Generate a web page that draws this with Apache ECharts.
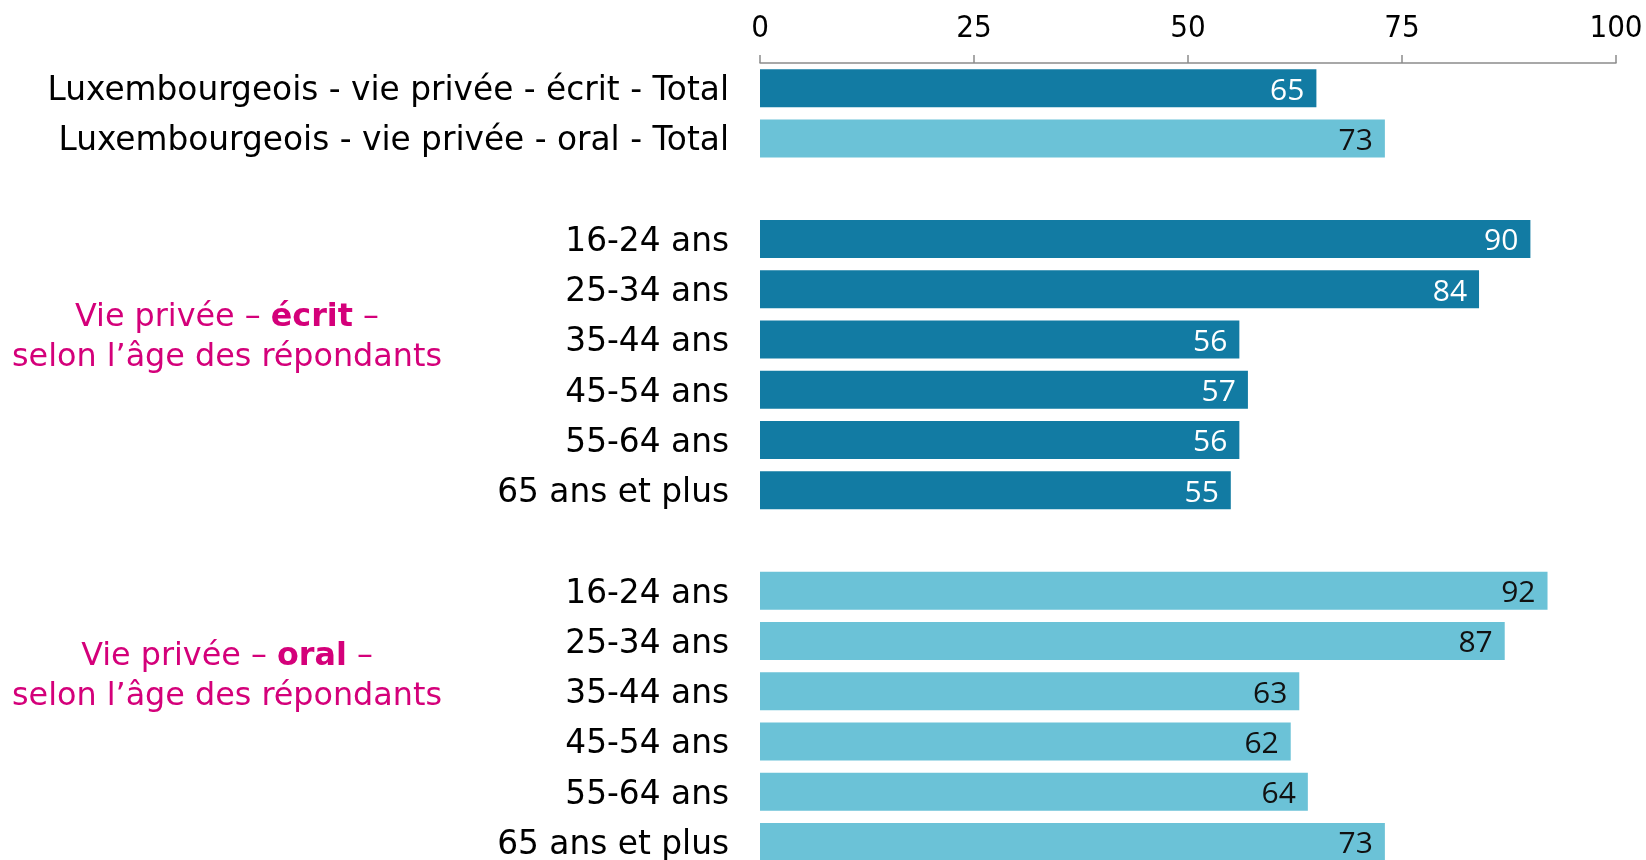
<!DOCTYPE html>
<html>
<head>
<meta charset="utf-8">
<script src="https://cdn.jsdelivr.net/npm/echarts@6/dist/echarts.min.js"></script>
<style>
  html, body { margin: 0; padding: 0; background: #ffffff; }
  #chart { width: 1646px; height: 860px; }
</style>
</head>
<body>
<div id="chart"></div>
<script>
// values
var totalLabels = ['Luxembourgeois - vie privée - écrit - Total', 'Luxembourgeois - vie privée - oral - Total'];
var totalValues = [65, 73];
var ageLabels = ['16-24 ans', '25-34 ans', '35-44 ans', '45-54 ans', '55-64 ans', '65 ans et plus'];
var writtenValues = [90, 84, 56, 57, 56, 55];
var oralValues = [92, 87, 63, 62, 64, 73];
var ticks = [0, 25, 50, 75, 100];

var DARK = '#127ba3';
var LIGHT = '#6bc2d7';
var PINK = '#d4007a';
var FONT = '"DejaVu Sans", Verdana, sans-serif';

// build the category list, with empty rows between the groups
var categories = [];
var data = [];
function push(label, value, color, labelColor) {
  categories.push(label);
  data.push(value == null ? null : {
    value: value,
    itemStyle: { color: color },
    label: { color: labelColor }
  });
}
push(totalLabels[0], totalValues[0], DARK, '#ffffff');
push(totalLabels[1], totalValues[1], LIGHT, '#111111');
push('', null);
ageLabels.forEach(function (a, i) { push(a, writtenValues[i], DARK, '#ffffff'); });
push(' ', null);
ageLabels.forEach(function (a, i) { push(a, oralValues[i], LIGHT, '#111111'); });

function groupLabel(word, y) {
  return {
    type: 'text', x: 227, y: y,
    style: {
      text: 'Vie privée – {b|' + word + '} –\nselon l’âge des répondants',
      align: 'center', verticalAlign: 'middle',
      fill: PINK, fontSize: 31.8, lineHeight: 40, fontFamily: FONT,
      rich: { b: { fontWeight: 'bold', fill: PINK, fontSize: 31.8, fontFamily: FONT } }
    }
  };
}

var myChart = echarts.init(document.getElementById('chart'));
myChart.setOption({
  animation: false,
  grid: { left: 760, width: 856, top: 63, height: 804, containLabel: false, outerBoundsMode: 'none' },
  xAxis: {
    type: 'value',
    position: 'top',
    min: ticks[0],
    max: ticks[ticks.length - 1],
    interval: 25,
    axisLine: { show: true, lineStyle: { color: '#8c8c8c', width: 1.5 } },
    axisTick: { show: true, length: 8, lineStyle: { color: '#8c8c8c', width: 1.5 } },
    splitLine: { show: false },
    axisLabel: {
      margin: 19,
      color: '#000',
      fontSize: 31,
      fontFamily: '"DejaVu Sans Condensed", "Liberation Sans Narrow", sans-serif'
    }
  },
  yAxis: {
    type: 'category',
    inverse: true,
    data: categories,
    axisLine: { show: false },
    axisTick: { show: false },
    axisLabel: {
      margin: 31,
      formatter: function (v) { return v.trim() ? '{t|' + v + '}' : ''; },
      rich: {
        t: { color: '#000', fontSize: 32.8, fontFamily: FONT, padding: [7, 0, 0, 0] }
      }
    }
  },
  series: [{
    type: 'bar',
    data: data,
    barWidth: 38,
    label: {
      show: true,
      position: 'insideRight',
      distance: 12,
      offset: [0, 3],
      fontSize: 30,
      fontFamily: '"Open Sans", sans-serif'
    }
  }],
  graphic: [groupLabel('écrit', 338), groupLabel('oral', 677)]
});
</script>
</body>
</html>
